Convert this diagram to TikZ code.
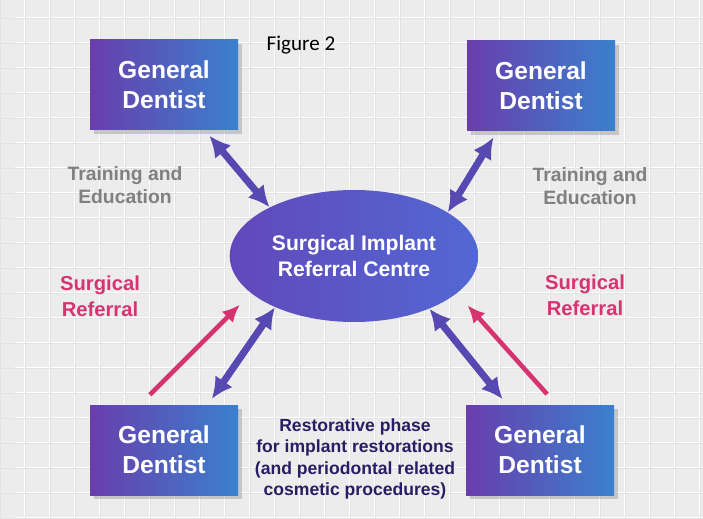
\documentclass[tikz,border=0pt]{standalone}
\usepackage{fontspec}
\setmainfont{Liberation Sans}
\newfontfamily\figfont{Carlito}
\usepackage{tikz}
\usetikzlibrary{calc, shapes.geometric, arrows.meta, shadows}

\definecolor{boxpurple}{RGB}{105,62,172}
\definecolor{boxblue}{RGB}{58,128,206}
\definecolor{hubpurple}{RGB}{98,72,186}
\definecolor{hubblue}{RGB}{82,104,212}
\definecolor{linkblue}{RGB}{88,72,178}
\definecolor{referpink}{RGB}{214,52,112}
\definecolor{textgray}{RGB}{128,128,128}
\definecolor{textnavy}{RGB}{40,30,100}
\definecolor{backgray}{RGB}{236,236,236}

\tikzset{
    dentist/.style={rectangle, left color=boxpurple, right color=boxblue, minimum width=2.96cm, minimum height=1.8cm, align=center, text=white, font=\bfseries\fontsize{14}{17}\selectfont, drop shadow={opacity=0.35, shadow xshift=2pt, shadow yshift=-2pt}},
    centre/.style={ellipse, left color=hubpurple, right color=hubblue, minimum width=4.96cm, minimum height=2.64cm, align=center, text=white, font=\bfseries\fontsize{12}{15}\selectfont},
    link/.style={{Latex[length=12pt, width=12pt]}-{Latex[length=12pt, width=12pt]}, line width=4pt, draw=linkblue},
    refer/.style={-{Latex[length=10pt, width=9pt]}, line width=2.6pt, draw=referpink},
}

\begin{document}
\begin{tikzpicture}
    \useasboundingbox (0,0) rectangle (14.06,10.36);
    \fill[backgray] (0,0) rectangle (14.06,10.36);
    \draw[white, line width=1pt] (0.3,0) grid[step=0.5] (14.06,10.36);
    \draw[gray!22, line width=0.3pt] (0,0) grid[step=0.5] (14.06,10.36);
    
    \node[dentist] (tl) at (3.28, 8.66) {General\\Dentist};
    
    \node[dentist] (tr) at (10.82, 8.64) {General\\Dentist};
    
    \node[dentist] (bl) at (3.28, 1.36) {General\\Dentist};
    
    \node[dentist] (br) at (10.80, 1.36) {General\\Dentist};
    
    \node[centre] (hub) at (7.08, 5.24) {Surgical Implant\\Referral Centre};
    
    \node[font=\figfont\fontsize{12}{14}\selectfont] (fig) at (6.02, 9.46) {Figure 2};
    
    \node[align=center, text=textgray, font=\bfseries\fontsize{11}{13.5}\selectfont] (trainl) at (2.5, 6.66) {Training and\\Education};
    
    \node[align=center, text=textgray, font=\bfseries\fontsize{11}{13.5}\selectfont] (trainr) at (11.8, 6.64) {Training and\\Education};
    
    \node[align=center, text=referpink, font=\bfseries\fontsize{11.5}{15}\selectfont] (surgl) at (2.0, 4.44) {Surgical\\Referral};
    
    \node[align=center, text=referpink, font=\bfseries\fontsize{11.5}{15}\selectfont] (surgr) at (11.7, 4.46) {Surgical\\Referral};
    
    \node[align=center, text=textnavy, font=\bfseries\fontsize{10}{12.3}\selectfont] (rest) at (7.1, 1.18) {Restorative phase\\for implant restorations\\(and periodontal related\\cosmetic procedures)};
    
    \draw[link, shorten <=4pt] (tl.-48) -- (hub.150);
    \draw[link, shorten <=4pt] (tr.-134) -- (hub.25);
    \draw[link, shorten >=4pt] (hub.213) -- (bl.46);
    \draw[link, shorten >=4pt] (hub.-35) -- (br.126);
    
    \draw[refer, shorten <=8pt, shorten >=9pt] (bl.118) -- (hub.200);
    \draw[refer, shorten <=8pt, shorten >=9pt] (br.70) -- (hub.-20);
    
\end{tikzpicture}
\end{document}
